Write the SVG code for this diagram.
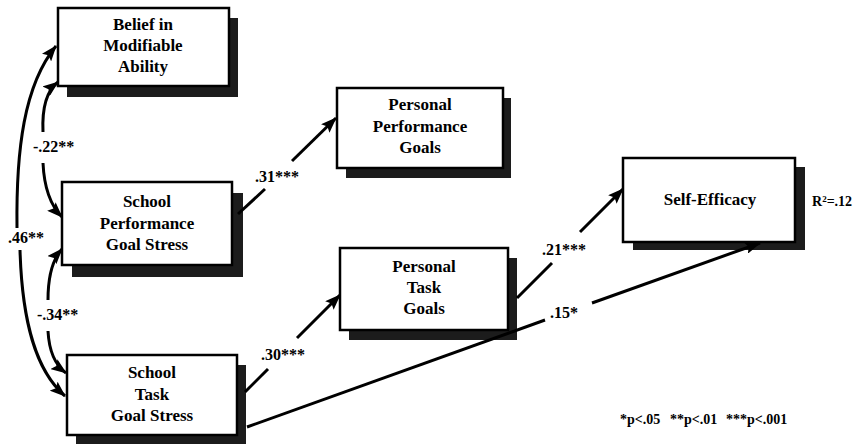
<svg xmlns="http://www.w3.org/2000/svg" width="865" height="444" viewBox="0 0 865 444">
<defs>
<style>
.bx{fill:#fff;stroke:#000;stroke-width:2.5}
.sh{fill:#1c1c1c}
.t{font-family:"Liberation Serif","Times New Roman",serif;font-weight:bold;font-size:17px;fill:#000;text-anchor:middle}
.lb{font-family:"Liberation Serif","Times New Roman",serif;font-weight:bold;font-size:16px;fill:#000}
.ln{fill:none;stroke:#000;stroke-width:3}
.ft{font-family:"Liberation Serif","Times New Roman",serif;font-weight:bold;font-size:14px;fill:#000}
</style>
<marker id="ah" viewBox="0 0 16 12" refX="15" refY="6" markerWidth="16" markerHeight="12" orient="auto" markerUnits="userSpaceOnUse">
<path d="M0,0 L16,6 L0,12 L3,6 z" fill="#000"/>
</marker>
</defs>
<rect width="865" height="444" fill="#fff"/>

<g id="belief">
<rect class="sh" x="67" y="18" width="171" height="79"/>
<rect class="bx" x="58" y="8" width="171" height="78"/>
<text class="t" x="143" y="30">Belief in</text>
<text class="t" x="143" y="51">Modifiable</text>
<text class="t" x="143" y="72">Ability</text>
</g>

<g id="school-performance">
<rect class="sh" x="72" y="193" width="171" height="84"/>
<rect class="bx" x="62" y="182" width="170" height="83"/>
<text class="t" x="147" y="207">School</text>
<text class="t" x="147" y="229">Performance</text>
<text class="t" x="147" y="250">Goal Stress</text>
</g>

<g id="school-task">
<rect class="sh" x="76" y="365" width="170" height="82"/>
<rect class="bx" x="67" y="355" width="170" height="80"/>
<text class="t" x="152" y="378">School</text>
<text class="t" x="152" y="400">Task</text>
<text class="t" x="152" y="421">Goal Stress</text>
</g>

<g id="personal-performance">
<rect class="sh" x="346" y="98" width="165" height="80"/>
<rect class="bx" x="337" y="88" width="166" height="80"/>
<text class="t" x="420" y="110">Personal</text>
<text class="t" x="420" y="132">Performance</text>
<text class="t" x="420" y="153">Goals</text>
</g>

<g id="personal-task">
<rect class="sh" x="349" y="258" width="168" height="82"/>
<rect class="bx" x="340" y="248" width="168" height="82"/>
<text class="t" x="424" y="272">Personal</text>
<text class="t" x="424" y="293">Task</text>
<text class="t" x="424" y="314">Goals</text>
</g>

<g id="self-efficacy">
<rect class="sh" x="633" y="167" width="172" height="83"/>
<rect class="bx" x="623" y="158" width="172" height="84"/>
<text class="t" x="710" y="205">Self-Efficacy</text>
</g>

<g id="connectors">
<path class="ln" d="M17,228 C16,150 24,85 56,46" marker-end="url(#ah)"/>
<path class="ln" d="M20,250 C22,320 35,370 65,396" marker-end="url(#ah)"/>
<path class="ln" d="M43,132 C42,110 45,92 58,82" marker-end="url(#ah)"/>
<path class="ln" d="M43,163 C44,185 50,205 62,217" marker-end="url(#ah)"/>
<path class="ln" d="M48,300 C48,280 52,260 62,249" marker-end="url(#ah)"/>
<path class="ln" d="M48,331 C49,350 55,365 66,373" marker-end="url(#ah)"/>
<path class="ln" d="M238,214 L265,189"/>
<path class="ln" d="M292,161 L336,118" marker-end="url(#ah)"/>
<path class="ln" d="M245,392 L268,369"/>
<path class="ln" d="M297,338 L340,295" marker-end="url(#ah)"/>
<path class="ln" d="M517,298 L552,263"/>
<path class="ln" d="M580,232 L623,189" marker-end="url(#ah)"/>
<path class="ln" d="M247,427 L545,320"/>
<path class="ln" d="M592,303 L760,243" marker-end="url(#ah)"/>
</g>

<g id="labels">
<text class="lb" x="8" y="243">.46**</text>
<text class="lb" x="33" y="152">-.22**</text>
<text class="lb" x="37" y="320">-.34**</text>
<text class="lb" x="255" y="182">.31***</text>
<text class="lb" x="261" y="360">.30***</text>
<text class="lb" x="542" y="255">.21***</text>
<text class="lb" x="550" y="318">.15*</text>
<text class="ft" x="812" y="206">R<tspan font-size="9" dy="-4">2</tspan><tspan dy="4">=.12</tspan></text>
<text class="ft" x="620" y="424">*p&lt;.05</text>
<text class="ft" x="670" y="424">**p&lt;.01</text>
<text class="ft" x="726" y="424">***p&lt;.001</text>
</g>
</svg>
